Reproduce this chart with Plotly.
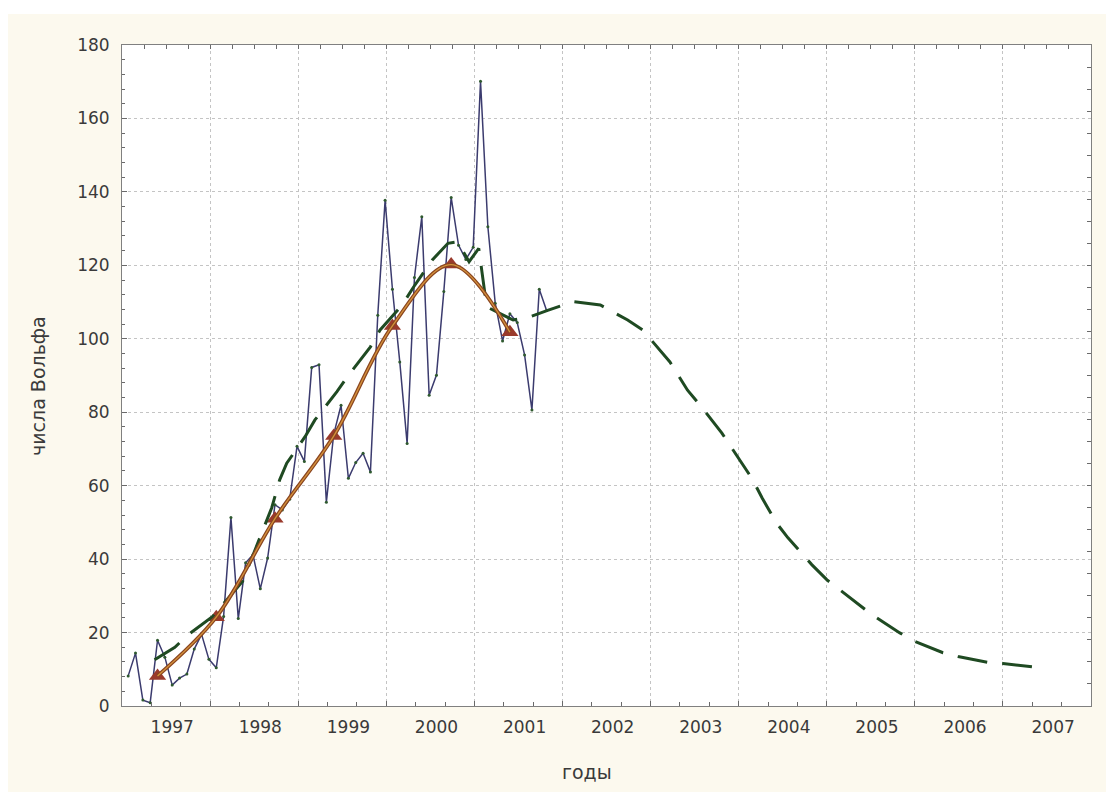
import plotly.graph_objects as go

# ---------------- data ----------------
# monthly Wolf numbers, Jul 1996 .. Apr 2001
first_year, first_month = 1996, 7
wolf_monthly = [
    8.2, 14.4, 1.6, 0.9, 17.9, 13.3,                                        # 1996 Jul-Dec
    5.7, 7.6, 8.7, 15.5, 19.5, 12.7, 10.4, 24.4, 51.3, 23.8, 39.0, 41.2,     # 1997
    31.9, 40.3, 54.8, 53.4, 56.3, 70.7, 66.6, 92.2, 92.9, 55.5, 74.0, 81.9,  # 1998
    62.0, 66.3, 68.8, 63.7, 106.4, 137.7, 113.5, 93.7, 71.5, 116.7, 133.2, 84.6,  # 1999
    90.1, 112.9, 138.5, 125.5, 121.6, 124.9, 170.1, 130.5, 109.7, 99.4, 106.8, 104.4,  # 2000
    95.6, 80.6, 113.5, 107.7,                                               # 2001 Jan-Apr
]

# smoothed values every 8 months (triangles + brown curve)
smooth_months = ["1996-11", "1997-07", "1998-03", "1998-11", "1999-07", "2000-03", "2000-11"]
smooth_values = [8.2, 24.2, 51.0, 73.5, 103.5, 120.2, 101.8]

# model / forecast curve (green dashed), decimal years
model_t = [1996.80, 1997.03, 1997.18, 1997.46, 1997.80, 1998.03, 1998.13, 1998.22, 1998.30,
           1998.51, 1998.62, 1998.87, 1998.99, 1999.25, 1999.36, 1999.61, 1999.74, 1999.95,
           2000.13, 2000.24, 2000.37, 2000.48, 2000.57, 2000.87, 2001.06, 2001.27, 2001.55,
           2001.86, 2002.00, 2002.17, 2002.34, 2002.51, 2002.65, 2002.85, 2002.99, 2003.24,
           2003.37, 2003.58, 2003.70, 2003.86, 2003.99, 2004.26, 2004.43, 2004.77, 2004.94,
           2005.26, 2005.43, 2005.75, 2005.92, 2006.26, 2006.43, 2006.85]
model_v = [12.6, 16.0, 19.4, 24.4, 34.0, 48.0, 54.0, 61.6, 66.1,
           73.4, 77.9, 85.6, 89.7, 97.8, 102.4, 109.2, 114.1, 121.4,
           126.0, 126.4, 121.0, 124.6, 108.7, 105.1, 106.0, 107.8, 110.1,
           109.2, 107.3, 105.1, 102.4, 97.8, 93.7, 86.0, 82.0, 74.3,
           69.7, 62.0, 56.5, 49.8, 45.8, 38.5, 34.4, 28.1, 24.9,
           19.9, 17.6, 14.5, 13.5, 11.9, 11.6, 10.4]

year_labels = [str(y) for y in range(1997, 2008)]
x_title = "годы"
y_title = "числа Вольфа"

# ---------------- helpers ----------------
def month_pos(y, m):
    return y + (m - 1) / 12.0

monthly_t = []
yy, mm = first_year, first_month
for _ in wolf_monthly:
    monthly_t.append(month_pos(yy, mm))
    mm += 1
    if mm > 12:
        mm, yy = 1, yy + 1

smooth_t = [month_pos(int(s[:4]), int(s[5:])) for s in smooth_months]

X0 = 1996.43
XR = [X0, X0 + 11]
YR = [0, 180]

FONT = "DejaVu Sans"
TXT = "#3a3a3a"
GRID = "#c4c4c4"
FRAME = "#808080"
CREAM = "#fcf9ee"

# page has an 8px body margin; plot area in page: x 122..1091, y 45..706
PW, PH = 969, 661

fig = go.Figure()

fig.add_trace(go.Scatter(
    x=monthly_t, y=wolf_monthly, mode="lines+markers",
    line=dict(color="#3b3b6e", width=1.5),
    marker=dict(size=3, color="#2f5a2f"),
    xaxis="x", yaxis="y", showlegend=False, hoverinfo="skip"))

fig.add_trace(go.Scatter(
    x=model_t, y=model_v, mode="lines",
    line=dict(color="#1f4a22", width=3, dash="30px,15px"),
    xaxis="x2", yaxis="y", showlegend=False, hoverinfo="skip"))

fig.add_trace(go.Scatter(
    x=smooth_t, y=smooth_values, mode="lines",
    line=dict(color="#8a4520", width=3.8, shape="spline"),
    xaxis="x3", yaxis="y", showlegend=False, hoverinfo="skip"))
fig.add_trace(go.Scatter(
    x=smooth_t, y=smooth_values, mode="lines",
    line=dict(color="#d4923c", width=1.3, shape="spline"),
    xaxis="x3", yaxis="y", showlegend=False, hoverinfo="skip"))

fig.add_trace(go.Scatter(
    x=smooth_t, y=smooth_values, mode="markers",
    marker=dict(symbol="triangle-up", size=15, color="#9a3a2c"),
    xaxis="x", yaxis="y2", showlegend=False, hoverinfo="skip"))

tickfont = dict(family=FONT, size=17, color=TXT)

fig.update_layout(
    width=1130, height=808,
    margin=dict(l=114, r=47, t=37, b=110),
    paper_bgcolor=CREAM, plot_bgcolor="white",
    xaxis=dict(range=XR, tickmode="array",
               tickvals=[int(s) for s in year_labels], ticktext=year_labels,
               ticks="", showgrid=False, zeroline=False,
               showline=True, linecolor=FRAME, linewidth=1, mirror=True,
               tickfont=tickfont, ticklabelstandoff=6),
    xaxis2=dict(range=XR, overlaying="x", anchor="y", side="bottom",
                tickmode="linear", tick0=X0, dtick=1,
                showgrid=True, gridcolor=GRID, griddash="dot", gridwidth=1,
                ticks="inside", ticklen=5, tickcolor="#6a6a6a",
                showticklabels=False, zeroline=False, showline=False,
                minor=dict(tick0=X0, dtick=1/3, ticks="inside", ticklen=4,
                           tickcolor="#6a6a6a", showgrid=False)),
    xaxis3=dict(range=XR, overlaying="x", anchor="y", side="top",
                tickmode="linear", tick0=X0, dtick=0.25,
                ticks="inside", ticklen=4, tickcolor="#6a6a6a",
                showticklabels=False, showgrid=False, zeroline=False, showline=False),
    yaxis=dict(range=YR, tickmode="linear", tick0=0, dtick=20,
               showgrid=True, gridcolor=GRID, griddash="dot", gridwidth=1,
               ticks="inside", ticklen=5, tickcolor="#6a6a6a",
               minor=dict(dtick=4, ticks="inside", ticklen=3, tickcolor="#6a6a6a", showgrid=False),
               zeroline=False, showline=True, linecolor=FRAME, linewidth=1, mirror=True,
               tickfont=tickfont, ticklabelstandoff=8),
    yaxis2=dict(range=YR, overlaying="y", anchor="x", side="right",
                tickmode="linear", tick0=0, dtick=6,
                ticks="inside", ticklen=4, tickcolor="#6a6a6a",
                showticklabels=False, showgrid=False, zeroline=False, showline=False),
    shapes=[
        dict(type="rect", xref="paper", yref="paper", x0=-0.2, x1=1.1,
             y0=1 + 31 / PH, y1=1.2, fillcolor="white", line=dict(width=0), layer="below"),
    ],
    annotations=[
        dict(text=x_title, xref="paper", yref="paper",
             x=(587 - 122) / PW, y=-(772 - 706) / PH, xanchor="center", yanchor="middle",
             showarrow=False, font=dict(family=FONT, size=19, color=TXT)),
        dict(text=y_title, xref="paper", yref="paper", textangle=-90,
             x=-(122 - 38) / PW, y=(706 - 386) / PH, xanchor="center", yanchor="middle",
             showarrow=False, font=dict(family=FONT, size=19, color=TXT)),
    ],
)

fig.write_html("out.html")
